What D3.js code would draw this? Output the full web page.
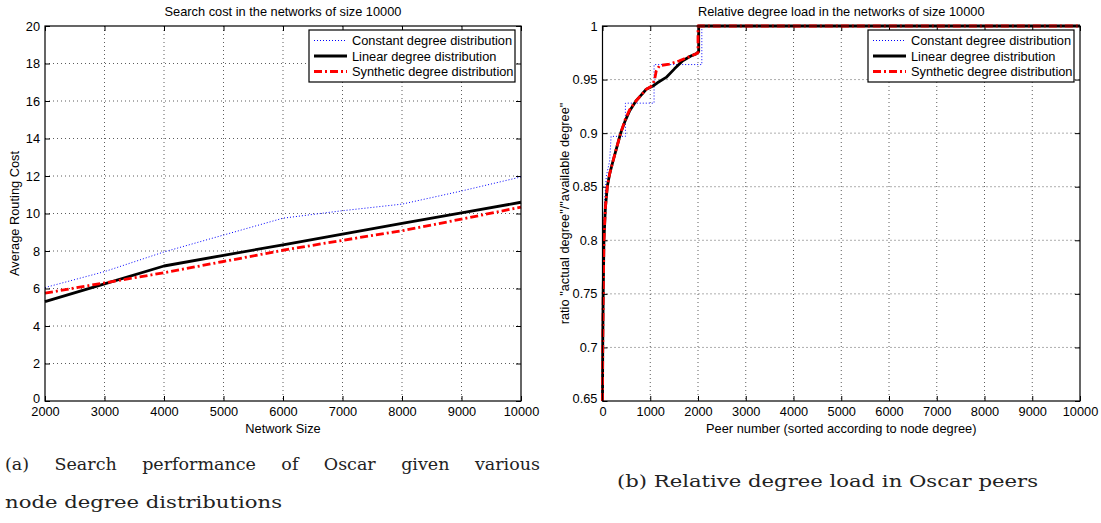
<!DOCTYPE html>
<html><head><meta charset="utf-8">
<script src="https://cdn.jsdelivr.net/npm/d3@7"></script>
<style>
body{margin:0;background:#fff}
svg text{font-family:"Liberation Sans",Arial,Helvetica,sans-serif}
</style>
</head><body>
<svg id="c" width="1101" height="523"></svg>
<script>
// ---------- Data: left chart (search cost) ----------
const networkSizes = [2000,3000,4000,5000,6000,7000,8000,9000,10000];
const costConstant = [6.05,6.9,7.95,8.85,9.75,10.15,10.5,11.2,11.95];
const costLinear   = [5.3,6.25,7.2,7.77,8.33,8.9,9.47,10.03,10.6];
const costSynthetic= [5.75,6.3,6.84,7.44,8.04,8.57,9.08,9.7,10.34];

// ---------- Data: right chart (relative degree load) ----------
const peerConstant = [0,5,20,50,80,150,180,480,480,1080,1080,2080,2080,10000];
const loadConstant = [0.65,0.75,0.80,0.84,0.86,0.874,0.897,0.897,0.928,0.928,0.964,0.964,1,1];
const peerLinear = [0,5,15,30,60,100,150,220,300,380,470,570,700,800,917,1056,1150,1333,1507,1680,1850,1958,2014,2014,10000];
const loadLinear = [0.65,0.70,0.75,0.80,0.83,0.85,0.862,0.874,0.887,0.90,0.911,0.921,0.93,0.935,0.941,0.944,0.947,0.952,0.96,0.9675,0.972,0.974,0.976,1,1];
const peerSynthetic = [0,5,15,30,60,100,150,220,300,380,470,570,700,800,917,1000,1060,1100,1125,1194,1403,1611,1800,1958,2000,2000,10000];
const loadSynthetic = [0.65,0.70,0.75,0.80,0.83,0.85,0.862,0.874,0.887,0.90,0.912,0.922,0.93,0.935,0.941,0.943,0.946,0.952,0.958,0.963,0.9645,0.9675,0.971,0.974,0.975,1,1];

// ---------- Ticks / labels ----------
const leftXTicks = [2000,3000,4000,5000,6000,7000,8000,9000,10000];
const leftYTicks = [0,2,4,6,8,10,12,14,16,18,20];
const rightXTicks = [0,1000,2000,3000,4000,5000,6000,7000,8000,9000,10000];
const rightYTicks = [0.65,0.7,0.75,0.8,0.85,0.9,0.95,1];
const rightYTickLabels = ["0.65","0.7","0.75","0.8","0.85","0.9","0.95","1"];
const seriesNames = ["Constant degree distribution","Linear degree distribution","Synthetic degree distribution"];
const titles = ["Search cost in the networks of size 10000","Relative degree load in the networks of size 10000"];
const xLabels = ["Network Size","Peer number (sorted according to node degree)"];
const yLabels = ["Average Routing Cost","ratio \"actual degree\"/\"available degree\""];
const captionA1 = "(a) Search performance of Oscar given various";
const captionA2 = "node degree distributions";
const captionB = "(b) Relative degree load in Oscar peers";

// ---------- Styles ----------
const styles = [
  {stroke:"#0000ff", width:1, dash:"1,2"},
  {stroke:"#000000", width:2.8, dash:null},
  {stroke:"#ff0000", width:2.8, dash:"8,3,2,3"}
];

const svg = d3.select("#c");
const FS = 12.8;

function panel(opt){
  const {xDomain,yDomain,left,right,top,bottom,xTicks,yTicks,yFmt,series,title,xLabel,yLabel,ylabX,legendX,legendW} = opt;
  const x = d3.scaleLinear().domain(xDomain).range([left,right]);
  const y = d3.scaleLinear().domain(yDomain).range([bottom,top]);
  const g = svg.append("g");
  g.append("rect").attr("x",left).attr("y",top).attr("width",right-left).attr("height",bottom-top).attr("fill","#fff");
  // grid
  const grid = g.append("g").attr("stroke","#333").attr("stroke-width",0.8).attr("stroke-dasharray","1,3");
  xTicks.slice(1,-1).forEach(t=>grid.append("line").attr("x1",x(t)).attr("x2",x(t)).attr("y1",top).attr("y2",bottom));
  yTicks.slice(1,-1).forEach(t=>grid.append("line").attr("x1",left).attr("x2",right).attr("y1",y(t)).attr("y2",y(t)));
  // axes (ticks point inward, MATLAB style)
  const ax = (a)=>a.tickSizeInner(-5).tickSizeOuter(0);
  const gb = g.append("g").attr("transform",`translate(0,${bottom})`).call(ax(d3.axisBottom(x).tickValues(xTicks).tickFormat(d3.format("d"))).tickPadding(6));
  const gt = g.append("g").attr("transform",`translate(0,${top})`).call(ax(d3.axisTop(x).tickValues(xTicks).tickFormat("")));
  const gl = g.append("g").attr("transform",`translate(${left},0)`).call(ax(d3.axisLeft(y).tickValues(yTicks).tickFormat(yFmt)).tickPadding(5));
  const gr = g.append("g").attr("transform",`translate(${right},0)`).call(ax(d3.axisRight(y).tickValues(yTicks).tickFormat("")));
  [gb,gt,gl,gr].forEach(a=>{a.select(".domain").remove();a.selectAll("line").attr("stroke","#000");a.selectAll("text").attr("font-size",FS).attr("fill","#000").style("font-family","'Liberation Sans',Arial,sans-serif");});
  gl.selectAll("text").filter((d,i)=>i===0).attr("dy","0.1em");
  // series
  const line = d3.line().x(d=>x(d[0])).y(d=>y(d[1]));
  series.forEach((s,i)=>{
    const st = styles[i];
    g.append("path").datum(s).attr("d",line).attr("fill","none").attr("stroke",st.stroke)
      .attr("stroke-width",st.width).attr("stroke-dasharray",st.dash).attr("stroke-linejoin","round");
  });
  // box
  g.append("rect").attr("x",left).attr("y",top).attr("width",right-left).attr("height",bottom-top)
    .attr("fill","none").attr("stroke","#000").attr("stroke-width",1.2);
  // title and labels
  g.append("text").attr("x",(left+right)/2).attr("y",top-10).attr("text-anchor","middle").attr("font-size",FS).text(title);
  g.append("text").attr("x",(left+right)/2).attr("y",bottom+32).attr("text-anchor","middle").attr("font-size",FS).text(xLabel);
  g.append("text").attr("transform",`translate(${ylabX},${(top+bottom)/2}) rotate(-90)`).attr("text-anchor","middle").attr("font-size",FS).text(yLabel);
  // legend
  const lw = legendW, lh = 52, ly = top+4, lx = legendX;
  const lg = g.append("g");
  lg.append("rect").attr("x",lx).attr("y",ly).attr("width",lw).attr("height",lh).attr("fill","#fff").attr("stroke","#000").attr("stroke-width",1.2);
  seriesNames.forEach((n,i)=>{
    const yy = ly+10.5+i*15.5;
    const st = styles[i];
    lg.append("line").attr("x1",lx+5).attr("x2",lx+38).attr("y1",yy).attr("y2",yy).attr("stroke",st.stroke)
      .attr("stroke-width",st.width).attr("stroke-dasharray",st.dash);
    lg.append("text").attr("x",lx+43).attr("y",yy+4.5).attr("font-size",FS).text(n);
  });
}

panel({xDomain:[2000,10000],yDomain:[0,20],left:45,right:521,top:26,bottom:401,
  xTicks:leftXTicks,yTicks:leftYTicks,yFmt:d3.format("d"),
  series:[networkSizes.map((v,i)=>[v,costConstant[i]]),networkSizes.map((v,i)=>[v,costLinear[i]]),networkSizes.map((v,i)=>[v,costSynthetic[i]])],
  title:titles[0],xLabel:xLabels[0],yLabel:yLabels[0],ylabX:18.5,legendX:309,legendW:206});

panel({xDomain:[0,10000],yDomain:[0.65,1],left:602.5,right:1080,top:26,bottom:401,
  xTicks:rightXTicks,yTicks:rightYTicks,yFmt:(d,i)=>rightYTickLabels[i],
  series:[peerConstant.map((v,i)=>[v,loadConstant[i]]),peerLinear.map((v,i)=>[v,loadLinear[i]]),peerSynthetic.map((v,i)=>[v,loadSynthetic[i]])],
  title:titles[1],xLabel:xLabels[1],yLabel:yLabels[1],ylabX:569,legendX:868,legendW:206});

// ---------- Captions (serif) ----------
const capFont = "'DejaVu Serif','Liberation Serif',serif";
const capSize = 17.5;
function justify(text,x0,x1,yb){
  const words = text.split(" ");
  const nodes = words.map(w=>svg.append("text").attr("y",yb).attr("font-size",capSize).style("font-family",capFont).attr("fill","#222").text(w));
  const widths = nodes.map(n=>n.node().getComputedTextLength());
  const total = d3.sum(widths);
  const gap = (x1-x0-total)/(words.length-1);
  let cx = x0;
  nodes.forEach((n,i)=>{n.attr("x",cx); cx += widths[i]+gap;});
}
justify(captionA1,5,540,470);
svg.append("text").attr("x",5).attr("y",508).attr("font-size",capSize).style("font-family",capFont).attr("fill","#222")
  .attr("textLength",277).attr("lengthAdjust","spacingAndGlyphs").text(captionA2);
svg.append("text").attr("x",617).attr("y",487).attr("font-size",capSize).style("font-family",capFont).attr("fill","#222")
  .attr("textLength",421).attr("lengthAdjust","spacingAndGlyphs").text(captionB);
</script>
</body></html>
